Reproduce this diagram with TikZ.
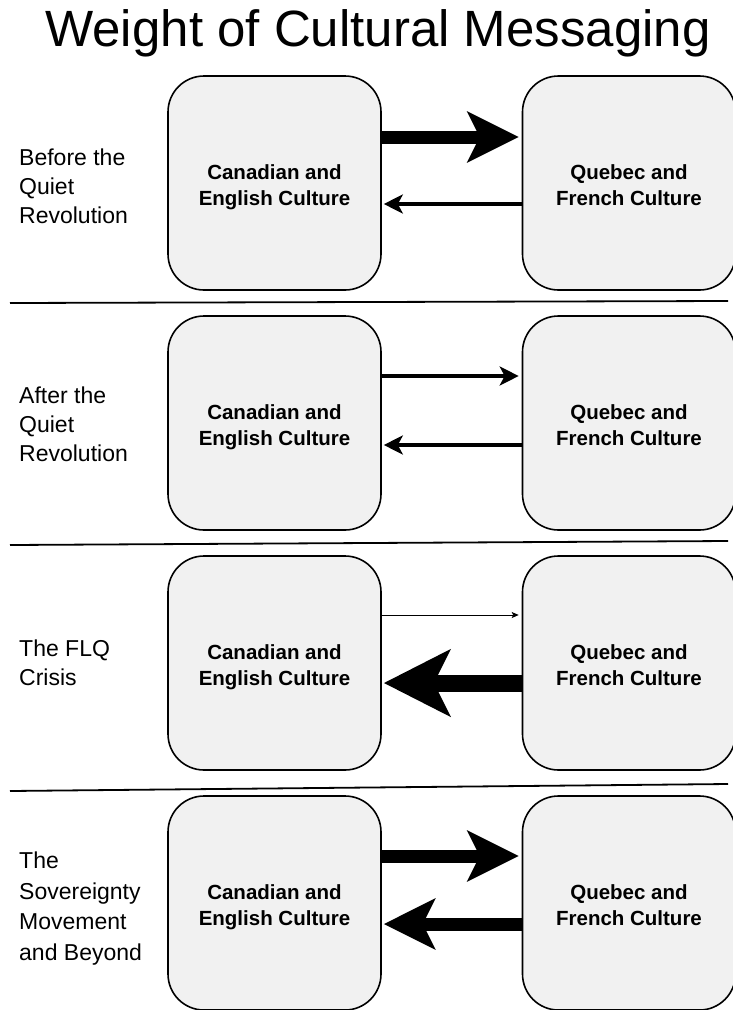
\documentclass[tikz,border=0pt]{standalone}
\usepackage{fontspec}
\setmainfont{Liberation Sans}
\usetikzlibrary{arrows.meta}
\definecolor{boxfill}{HTML}{F1F1F1}
\begin{document}
\begin{tikzpicture}[x=1pt,y=-1pt,
  cbox/.style={draw=black, line width=1.6pt, fill=boxfill, rounded corners=36pt,
    minimum width=213pt, minimum height=214pt, inner sep=0pt, align=center,
    text height=50pt, text depth=6pt,
    font=\fontsize{20.5}{26}\selectfont\bfseries},
  period/.style={anchor=west, align=left, inner sep=0pt, font=\fontsize{23}{28.8}\selectfont},
  periodwide/.style={period, font=\fontsize{23}{30.7}\selectfont},
  sep/.style={line width=1.8pt},
  bigarrow/.style={line width=13pt, -{Stealth[length=51pt, width=50pt, inset=12pt]}},
  hugearrow/.style={line width=17pt, -{Stealth[length=66pt, width=66pt, inset=16pt]}},
  midarrow/.style={line width=3.8pt, -{Stealth[length=19pt, width=19pt, inset=5pt]}},
  thinarrow/.style={line width=0.8pt, -{Stealth[length=7pt, width=6pt, inset=1.5pt]}}
]
\useasboundingbox (0,0) rectangle (733,1010);
\clip (0,0) rectangle (733,1010);

\node[inner sep=0pt, font=\fontsize{51}{60}\selectfont] (title) at (378,33) {Weight of Cultural Messaging};

% panel 1
\node[cbox] (L1) at (274.5,183) {Canadian and\\English Culture};
\node[cbox] (R1) at (629,183) {Quebec and\\French Culture};
\node[period] (P1) at (19,186) {Before the\\Quiet\\Revolution};
\draw[bigarrow] ([yshift=46pt]L1.east) -- ([xshift=-3pt,yshift=46pt]R1.west);
\draw[midarrow] ([yshift=-21pt]R1.west) -- ([xshift=2pt,yshift=-21pt]L1.east);

\coordinate (s1a) at (10,303);
\coordinate (s1b) at (728,301);
\draw[sep] (s1a) -- (s1b);

% panel 2
\node[cbox] (L2) at (274.5,423) {Canadian and\\English Culture};
\node[cbox] (R2) at (629,423) {Quebec and\\French Culture};
\node[period] (P2) at (19,424.5) {After the\\Quiet\\Revolution};
\draw[midarrow] ([yshift=47pt]L2.east) -- ([xshift=-3pt,yshift=47pt]R2.west);
\draw[midarrow] ([yshift=-22pt]R2.west) -- ([xshift=2pt,yshift=-22pt]L2.east);

\coordinate (s2a) at (10,545);
\coordinate (s2b) at (728,541);
\draw[sep] (s2a) -- (s2b);

% panel 3
\node[cbox] (L3) at (274.5,663) {Canadian and\\English Culture};
\node[cbox] (R3) at (629,663) {Quebec and\\French Culture};
\node[period] (P3) at (19,662.5) {The FLQ\\Crisis};
\draw[thinarrow] ([yshift=48pt]L3.east) -- ([xshift=-3pt,yshift=48pt]R3.west);
\draw[hugearrow] ([yshift=-20pt]R3.west) -- ([xshift=2pt,yshift=-20pt]L3.east);

\coordinate (s3a) at (10,791);
\coordinate (s3b) at (728,784);
\draw[sep] (s3a) -- (s3b);

% panel 4
\node[cbox] (L4) at (274.5,903) {Canadian and\\English Culture};
\node[cbox] (R4) at (629,903) {Quebec and\\French Culture};
\node[periodwide] (P4) at (19,908.5) {The\\Sovereignty\\Movement\\and Beyond};
\draw[bigarrow] ([yshift=47pt]L4.east) -- ([xshift=-3pt,yshift=47pt]R4.west);
\draw[bigarrow] ([yshift=-21pt]R4.west) -- ([xshift=2pt,yshift=-21pt]L4.east);
\end{tikzpicture}
\end{document}
